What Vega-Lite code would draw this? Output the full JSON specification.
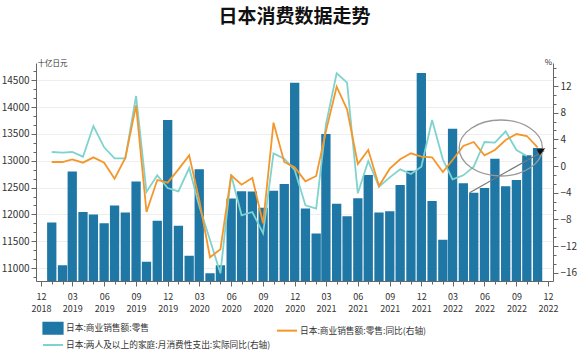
{
  "$schema": "https://vega.github.io/schema/vega-lite/v6.json",
  "width": 517,
  "height": 218,
  "autosize": {"type": "none"},
  "padding": {"left": 36, "top": 63, "right": 34, "bottom": 74},
  "background": "white",
  "title": {"text": "日本消费数据走势", "font": "Noto Sans CJK SC", "fontSize": 19, "fontWeight": "bold", "color": "#111", "anchor": "middle", "offset": 31},
  "data": {"values": [
    {"date": "2019-01-01", "sales": 11850, "retail_yoy": 0.6, "household_yoy": 2.1},
    {"date": "2019-02-01", "sales": 11055, "retail_yoy": 0.6, "household_yoy": 2.0},
    {"date": "2019-03-01", "sales": 12800, "retail_yoy": 1.0, "household_yoy": 2.1},
    {"date": "2019-04-01", "sales": 12045, "retail_yoy": 0.5, "household_yoy": 1.4},
    {"date": "2019-05-01", "sales": 12000, "retail_yoy": 1.3, "household_yoy": 6.0},
    {"date": "2019-06-01", "sales": 11835, "retail_yoy": 0.5, "household_yoy": 2.8},
    {"date": "2019-07-01", "sales": 12165, "retail_yoy": -1.9, "household_yoy": 1.15},
    {"date": "2019-08-01", "sales": 12035, "retail_yoy": 1.2, "household_yoy": 1.15},
    {"date": "2019-09-01", "sales": 12615, "retail_yoy": 9.1, "household_yoy": 10.5},
    {"date": "2019-10-01", "sales": 11120, "retail_yoy": -6.9, "household_yoy": -3.9},
    {"date": "2019-11-01", "sales": 11880, "retail_yoy": -2.1, "household_yoy": -1.4},
    {"date": "2019-12-01", "sales": 13760, "retail_yoy": -2.5, "household_yoy": -3.3},
    {"date": "2020-01-01", "sales": 11790, "retail_yoy": -0.5, "household_yoy": -3.8},
    {"date": "2020-02-01", "sales": 11230, "retail_yoy": 1.6, "household_yoy": -0.3},
    {"date": "2020-03-01", "sales": 12840, "retail_yoy": -5.1, "household_yoy": -6.0},
    {"date": "2020-04-01", "sales": 10905, "retail_yoy": -13.7, "household_yoy": -11.1},
    {"date": "2020-05-01", "sales": 11055, "retail_yoy": -12.5, "household_yoy": -16.1},
    {"date": "2020-06-01", "sales": 12295, "retail_yoy": -1.4, "household_yoy": -1.3},
    {"date": "2020-07-01", "sales": 12430, "retail_yoy": -2.8, "household_yoy": -7.4},
    {"date": "2020-08-01", "sales": 12425, "retail_yoy": -1.8, "household_yoy": -6.9},
    {"date": "2020-09-01", "sales": 12125, "retail_yoy": -8.6, "household_yoy": -10.1},
    {"date": "2020-10-01", "sales": 12440, "retail_yoy": 6.5, "household_yoy": 1.9},
    {"date": "2020-11-01", "sales": 12565, "retail_yoy": 0.6, "household_yoy": 1.1},
    {"date": "2020-12-01", "sales": 14450, "retail_yoy": -0.2, "household_yoy": -0.6},
    {"date": "2021-01-01", "sales": 12110, "retail_yoy": -2.3, "household_yoy": -5.9},
    {"date": "2021-02-01", "sales": 11645, "retail_yoy": -1.5, "household_yoy": -6.4},
    {"date": "2021-03-01", "sales": 13500, "retail_yoy": 5.2, "household_yoy": 6.2},
    {"date": "2021-04-01", "sales": 12200, "retail_yoy": 11.9, "household_yoy": 13.9},
    {"date": "2021-05-01", "sales": 11965, "retail_yoy": 8.5, "household_yoy": 12.5},
    {"date": "2021-06-01", "sales": 12300, "retail_yoy": 0.3, "household_yoy": -4.1},
    {"date": "2021-07-01", "sales": 12735, "retail_yoy": 2.4, "household_yoy": 0.75},
    {"date": "2021-08-01", "sales": 12035, "retail_yoy": -3.0, "household_yoy": -3.1},
    {"date": "2021-09-01", "sales": 12060, "retail_yoy": -0.4, "household_yoy": -1.7},
    {"date": "2021-10-01", "sales": 12550, "retail_yoy": 1.0, "household_yoy": -0.5},
    {"date": "2021-11-01", "sales": 12815, "retail_yoy": 1.9, "household_yoy": -1.2},
    {"date": "2021-12-01", "sales": 14635, "retail_yoy": 1.4, "household_yoy": -0.1},
    {"date": "2022-01-01", "sales": 12250, "retail_yoy": 1.3, "household_yoy": 6.9},
    {"date": "2022-02-01", "sales": 11530, "retail_yoy": -0.9, "household_yoy": 1.0},
    {"date": "2022-03-01", "sales": 13595, "retail_yoy": 0.9, "household_yoy": -2.0},
    {"date": "2022-04-01", "sales": 12580, "retail_yoy": 3.0, "household_yoy": -1.4},
    {"date": "2022-05-01", "sales": 12405, "retail_yoy": 3.6, "household_yoy": -0.1},
    {"date": "2022-06-01", "sales": 12490, "retail_yoy": 1.6, "household_yoy": 3.6},
    {"date": "2022-07-01", "sales": 13035, "retail_yoy": 2.4, "household_yoy": 3.5},
    {"date": "2022-08-01", "sales": 12525, "retail_yoy": 3.9, "household_yoy": 5.2},
    {"date": "2022-09-01", "sales": 12640, "retail_yoy": 4.8, "household_yoy": 2.4},
    {"date": "2022-10-01", "sales": 13100, "retail_yoy": 4.5, "household_yoy": 1.5},
    {"date": "2022-11-01", "sales": 13235, "retail_yoy": 2.8, "household_yoy": null}
  ]},
  "encoding": {
    "x": {
      "field": "date", "type": "temporal",
      "scale": {"type": "utc", "domain": [{"year": 2018, "month": 12, "date": 1, "utc": true}, {"year": 2022, "month": 12, "date": 1, "utc": true}]},
      "axis": {
        "title": null,
        "tickCount": {"interval": "month", "step": 1},
        "labelExpr": "utcmonth(datum.value) % 3 == 2 ? [utcFormat(datum.value, '%m'), utcFormat(datum.value, '%Y')] : ''",
        "tickSize": {"condition": {"test": "utcmonth(datum.value) % 3 == 2", "value": 5}, "value": 3},
        "labelOverlap": false, "labelFlush": false, "labelBound": false,
        "labelFont": "Noto Sans CJK SC", "labelFontSize": 9, "labelColor": "#333", "labelLineHeight": 12, "labelPadding": 6,
        "domainColor": "#666", "tickColor": "#666", "grid": false
      }
    }
  },
  "layer": [
    {
      "mark": {"type": "bar", "size": 9.3, "clip": true},
      "encoding": {
        "y": {
          "field": "sales", "type": "quantitative",
          "scale": {"domain": [10760, 14820], "zero": false, "nice": false},
          "axis": {
            "orient": "left",
            "values": [10833.33, 11000, 11166.67, 11333.33, 11500, 11666.67, 11833.33, 12000, 12166.67, 12333.33, 12500, 12666.67, 12833.33, 13000, 13166.67, 13333.33, 13500, 13666.67, 13833.33, 14000, 14166.67, 14333.33, 14500, 14666.67],
            "labelExpr": "datum.value % 500 == 0 ? format(datum.value, 'd') : ''",
            "tickSize": {"condition": {"test": "datum.value % 500 == 0", "value": 5}, "value": 3},
            "grid": true, "gridColor": "#eeeeee",
            "gridOpacity": {"condition": {"test": "datum.value % 500 == 0", "value": 1}, "value": 0},
            "labelFont": "Noto Sans CJK SC", "labelFontSize": 10, "labelColor": "#333", "labelPadding": 2,
            "domainColor": "#666", "tickColor": "#666",
            "title": "十亿日元", "titleAngle": 0, "titleX": 1, "titleY": 0, "titleAlign": "left", "titleBaseline": "middle",
            "titleFont": "Noto Sans CJK SC", "titleFontSize": 7.5, "titleFontWeight": "normal", "titleColor": "#333"
          }
        },
        "color": {"datum": "sales", "type": "nominal"}
      }
    },
    {
      "encoding": {
        "y": {
          "field": "value", "type": "quantitative",
          "scale": {"domain": [-17.25, 15.45], "zero": false, "nice": false},
          "axis": {
            "orient": "right",
            "values": [-16, -14.667, -13.333, -12, -10.667, -9.333, -8, -6.667, -5.333, -4, -2.667, -1.333, 0, 1.333, 2.667, 4, 5.333, 6.667, 8, 9.333, 10.667, 12, 13.333, 14.667],
            "labelExpr": "datum.value % 4 == 0 ? format(datum.value, 'd') : ''",
            "tickSize": {"condition": {"test": "datum.value % 4 == 0", "value": 5}, "value": 3},
            "grid": false,
            "labelFont": "Noto Sans CJK SC", "labelFontSize": 10, "labelColor": "#333", "labelPadding": 2,
            "domainColor": "#666", "tickColor": "#666",
            "title": "%", "titleAngle": 0, "titleX": -5, "titleY": -1, "titleAlign": "center", "titleBaseline": "middle",
            "titleFont": "Noto Sans CJK SC", "titleFontSize": 8, "titleFontWeight": "normal", "titleColor": "#333"
          }
        }
      },
      "layer": [
        {
          "transform": [
            {"fold": ["household_yoy", "retail_yoy"], "as": ["series", "value"]},
            {"filter": "datum.value != null"}
          ],
          "mark": {"type": "line", "strokeWidth": 1.8, "clip": true},
          "encoding": {
            "color": {
              "field": "series", "type": "nominal",
              "scale": {"domain": ["sales", "retail_yoy", "household_yoy"], "range": ["#1f77a6", "#f5962b", "#7fd3cf"]},
              "legend": {
                "orient": "none", "legendX": 10, "legendY": 258, "columns": 2, "direction": "horizontal",
                "title": null, "padding": 0,
                "labelFont": "Noto Sans CJK SC", "labelFontSize": 8.7, "labelColor": "#333", "labelLimit": 400,
                "labelOffset": 6, "symbolSize": 144, "rowPadding": 0, "columnPadding": 1,
                "labelExpr": "datum.value == 'sales' ? '日本:商业销售额:零售' : datum.value == 'retail_yoy' ? '日本:商业销售额:零售:同比(右轴)' : '日本:两人及以上的家庭:月消费性支出:实际同比(右轴)'",
                "encode": {
                  "symbols": {
                    "update": {
                      "shape": {"signal": "datum.value == 'sales' ? 'M-1.6,-0.92H1.6V0.92H-1.6Z' : 'M-1.67,0H1.67'"},
                      "fill": {"signal": "datum.value == 'sales' ? '#1f77a6' : 'transparent'"},
                      "stroke": {"signal": "datum.value == 'retail_yoy' ? '#f5962b' : datum.value == 'household_yoy' ? '#7fd3cf' : 'transparent'"},
                      "strokeWidth": {"value": 2},
                      "opacity": {"value": 1}
                    }
                  }
                }
              }
            }
          }
        },
        {
          "data": {"values": [{"date": "2022-07-18", "value": 2.7}]},
          "mark": {"type": "point", "shape": "M-1,0A1,0.672,0,1,0,1,0A1,0.672,0,1,0,-1,0Z", "size": 6939, "filled": false, "color": "#999", "strokeWidth": 1.3, "opacity": 1}
        },
        {
          "data": {"values": [{"date": "2022-04-19", "value": -4.0}, {"date": "2022-11-20", "value": 2.3}]},
          "mark": {"type": "line", "color": "#777", "strokeWidth": 1.2},
          "encoding": {}
        },
        {
          "data": {"values": [{"date": "2022-11-23", "value": 2.65}]},
          "mark": {"type": "point", "shape": "M0,0L-1.332,1.693L-2.132,0.307Z", "size": 64, "filled": true, "color": "#111", "opacity": 1}
        }
      ]
    }
  ],
  "resolve": {"scale": {"y": "independent"}},
  "config": {"view": {"stroke": null}}
}
